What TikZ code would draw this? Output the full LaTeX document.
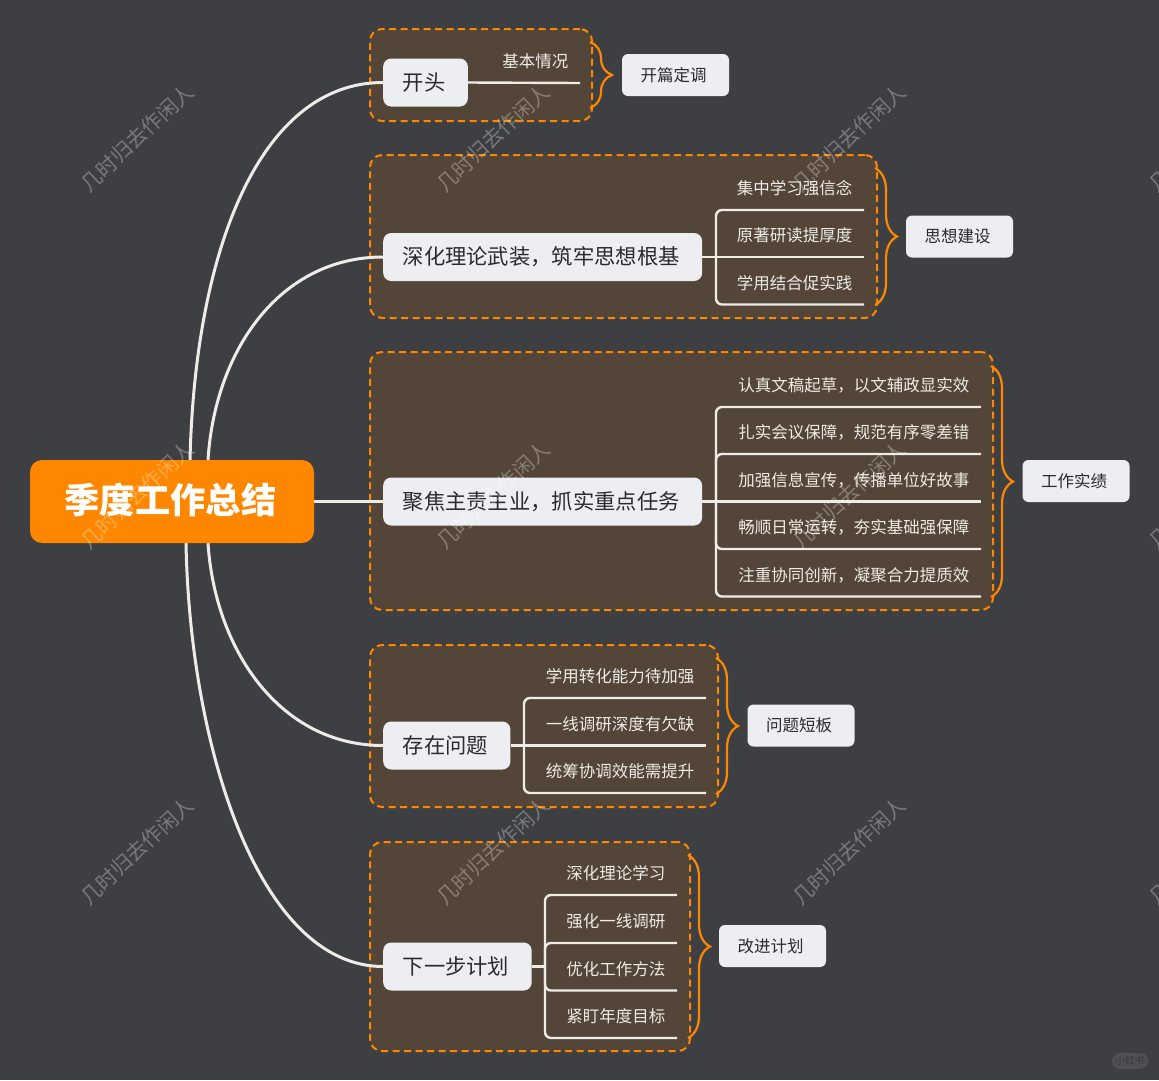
\documentclass[tikz,border=0pt]{standalone}
\usepackage{fontspec}
\setmainfont{Noto Sans CJK SC}
\usetikzlibrary{positioning, decorations.pathreplacing}
\pgfdeclarelayer{backlayer}
\pgfsetlayers{backlayer,main}
\definecolor{pagegray}{HTML}{3D3F43}
\definecolor{boxbrown}{HTML}{534538}
\definecolor{mainorange}{HTML}{FF8700}
\definecolor{nodegray}{HTML}{ECEEF1}
\definecolor{inkdark}{HTML}{2A2B2E}
\definecolor{linewhite}{HTML}{EFEBE7}
\begin{document}
\begin{tikzpicture}[x=1pt, y=-1pt]
\tikzset{
    myroot/.style={rectangle, rounded corners=12pt, fill=mainorange, text=white, minimum width=284pt, minimum height=83pt, inner sep=0pt, text height=30pt, text depth=7pt, execute at end node={\hspace{3pt}}, font=\fontsize{35.3}{40}\selectfont\bfseries},
    mytopic/.style={rectangle, rounded corners=8pt, fill=nodegray, text=inkdark, anchor=west, minimum height=48pt, inner xsep=19.5pt, inner ysep=0pt, execute at end node={\hspace{3pt}}, font=\fontsize{21.3}{25}\selectfont},
    myleaf/.style={rectangle, anchor=south east, text=linewhite, minimum height=42.5pt, inner xsep=11.5pt, inner ysep=0pt, font=\fontsize{16.5}{20}\selectfont},
    mysum/.style={rectangle, rounded corners=6pt, fill=nodegray, text=inkdark, minimum width=107pt, minimum height=42pt, inner sep=0pt, execute at end node={\hspace{4pt}}, font=\fontsize{16.5}{20}\selectfont},
    mybox/.style={rectangle, rounded corners=12pt, draw=mainorange, fill=boxbrown, line width=2pt, dash pattern=on 7pt off 4.5pt, inner sep=0pt},
    mylink/.style={draw=linewhite, line width=3pt},
    mytwig/.style={draw=linewhite, line width=2.4pt, rounded corners=6pt},
    mybrace/.style={draw=mainorange, line width=2.2pt, decorate, decoration={brace, amplitude=22pt, aspect=0.5}},
    mymark/.style={text=white, opacity=0.3, rotate=43, inner sep=0pt, font=\fontsize{20.7}{26}\selectfont}
}
\useasboundingbox (0,0) rectangle (1159,1080);

\node[myroot] (root) at (172,501.5) {季度工作总结};

\node[mytopic] (start) at (383,82.5) {开头};
\node[myleaf] (start_a) at (580,83) {基本情况};
\node[mysum] (start_s) at (675.5,75) {开篇定调};

\node[mytopic] (theory) at (383,257) {深化理论武装，筑牢思想根基};
\node[myleaf] (theory_a) at (864,210) {集中学习强信念};
\node[myleaf] (theory_b) at (864,257) {原著研读提厚度};
\node[myleaf] (theory_c) at (864,304.5) {学用结合促实践};
\node[mysum] (theory_s) at (959.5,236.5) {思想建设};

\node[mytopic] (focus) at (383,501.5) {聚焦主责主业，抓实重点任务};
\node[myleaf] (focus_a) at (981,407) {认真文稿起草，以文辅政显实效};
\node[myleaf] (focus_b) at (981,454) {扎实会议保障，规范有序零差错};
\node[myleaf] (focus_c) at (981,501.5) {加强信息宣传，传播单位好故事};
\node[myleaf] (focus_d) at (981,549) {畅顺日常运转，夯实基础强保障};
\node[myleaf] (focus_e) at (981,596.5) {注重协同创新，凝聚合力提质效};
\node[mysum] (focus_s) at (1076,481) {工作实绩};

\node[mytopic] (issue) at (383,745.5) {存在问题};
\node[myleaf] (issue_a) at (706,698) {学用转化能力待加强};
\node[myleaf] (issue_b) at (706,745.5) {一线调研深度有欠缺};
\node[myleaf] (issue_c) at (706,793) {统筹协调效能需提升};
\node[mysum] (issue_s) at (801,725.5) {问题短板};

\node[mytopic] (plan) at (383,966.5) {下一步计划};
\node[myleaf] (plan_a) at (677,895) {深化理论学习};
\node[myleaf] (plan_b) at (677,943) {强化一线调研};
\node[myleaf] (plan_c) at (677,990.5) {优化工作方法};
\node[myleaf] (plan_d) at (677,1038) {紧盯年度目标};
\node[mysum] (plan_s) at (772.5,946) {改进计划};

\coordinate (theory_t) at (716,257);
\coordinate (focus_t) at (716,501.5);
\coordinate (issue_t) at (524,745.5);
\coordinate (plan_t) at (545,966.5);

\begin{pgfonlayer}{backlayer}
\fill[pagegray] (0,0) rectangle (1159,1080);
\node[mybox, minimum width=222pt, minimum height=92pt] (start_box) at (481,75) {};
\node[mybox, minimum width=507pt, minimum height=163pt] (theory_box) at (623.5,236.5) {};
\node[mybox, minimum width=623pt, minimum height=258pt] (focus_box) at (681.5,481) {};
\node[mybox, minimum width=348pt, minimum height=162pt] (issue_box) at (544,726) {};
\node[mybox, minimum width=320pt, minimum height=209pt] (plan_box) at (530,946.5) {};

\draw[mylink] ([xshift=18pt]root.north) .. controls (195,250) and (260,82.5) .. (start.west);
\draw[mylink] ([xshift=36pt]root.north) .. controls (215,350) and (280,257) .. (theory.west);
\draw[mylink] (root.east) -- (focus.west);
\draw[mylink] ([xshift=36pt]root.south) .. controls (215,650) and (280,745.5) .. (issue.west);
\draw[mylink] ([xshift=14pt]root.south) .. controls (190,750) and (260,966.5) .. (plan.west);

\draw[mytwig] (start.east) -- (start_a.south east);

\draw[mytwig] (theory.east) -- (theory_b.south east);
\foreach \leaf in {theory_a, theory_c}
    \draw[mytwig] (\leaf.south east) -- (\leaf.south -| theory_t) -- (theory_t);

\draw[mytwig] (focus.east) -- (focus_c.south east);
\foreach \leaf in {focus_a, focus_b, focus_d, focus_e}
    \draw[mytwig] (\leaf.south east) -- (\leaf.south -| focus_t) -- (focus_t);

\draw[mytwig] (issue.east) -- (issue_b.south east);
\foreach \leaf in {issue_a, issue_c}
    \draw[mytwig] (\leaf.south east) -- (\leaf.south -| issue_t) -- (issue_t);

\draw[mytwig] (plan.east) -- (plan_t);
\foreach \leaf in {plan_a, plan_b, plan_c, plan_d}
    \draw[mytwig] (\leaf.south east) -- (\leaf.south -| plan_t) -- (plan_t);
\end{pgfonlayer}

\draw[mybrace] (590,42) coordinate (start_bt) -- (590,108) coordinate (start_bb);
\draw[mybrace] (875,168) coordinate (theory_bt) -- (875,305) coordinate (theory_bb);
\draw[mybrace] (991,366) coordinate (focus_bt) -- (991,597) coordinate (focus_bb);
\draw[mybrace] (716,658) coordinate (issue_bt) -- (716,794) coordinate (issue_bb);
\draw[mybrace] (688,855) coordinate (plan_bt) -- (688,1038) coordinate (plan_bb);

\foreach \col/\posx in {a/137, b/493, c/849, d/1205}
    \foreach \row/\posy in {a/138, b/495, c/851}
        \node[mymark] (mark_\col\row) at (\posx,\posy) {几时归去作闲人};

\node[rectangle, rounded corners=8pt, fill=white, fill opacity=0.09, text opacity=0.3, text=black, minimum width=36pt, minimum height=16pt, inner sep=0pt, font=\fontsize{10}{12}\selectfont] (badge) at (1130,1061) {小红书};
\end{tikzpicture}
\end{document}
